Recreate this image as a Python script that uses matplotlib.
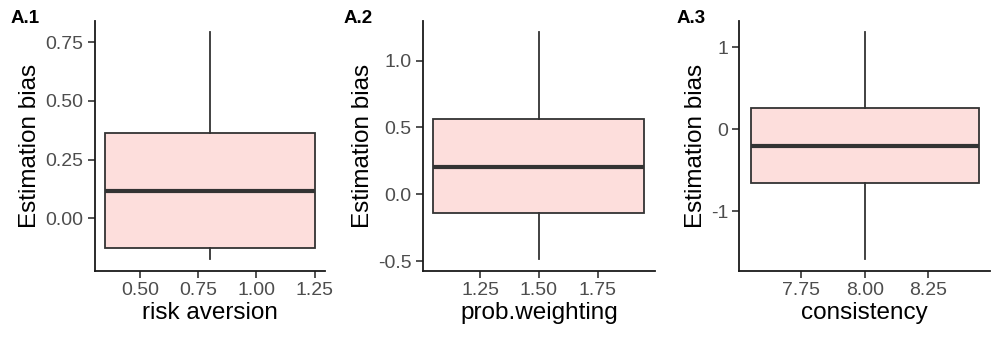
import matplotlib
matplotlib.use("Agg")
import matplotlib.pyplot as plt

plt.rcParams["font.family"] = ["Liberation Sans", "DejaVu Sans"]

# box stats: whisker low, q1, median, q3, whisker high
panels = ["A.1", "A.2", "A.3"]
xlabels = ["risk aversion", "prob.weighting", "consistency"]
centers = [0.8, 1.5, 8.0]
whislo = [-0.176, -0.487, -1.59]
q1 = [-0.127, -0.139, -0.657]
med = [0.116, 0.206, -0.20]
q3 = [0.363, 0.563, 0.257]
whishi = [0.794, 1.213, 1.188]

xticks = [[0.50, 0.75, 1.00, 1.25], [1.25, 1.50, 1.75], [7.75, 8.00, 8.25]]
xticklabels = [["0.50", "0.75", "1.00", "1.25"], ["1.25", "1.50", "1.75"], ["7.75", "8.00", "8.25"]]
yticks = [[0.0, 0.25, 0.5, 0.75], [-0.5, 0.0, 0.5, 1.0], [-1, 0, 1]]
yticklabels = [["0.00", "0.25", "0.50", "0.75"], ["-0.5", "0.0", "0.5", "1.0"], ["-1", "0", "1"]]

W, H = 991, 338
fig = plt.figure(figsize=(W / 100, H / 100), dpi=100)

# axes boxes in pixels: left, right
boxes = [(94.7, 325), (422.7, 655), (739.3, 990)]
top_px, bot_px = 20.7, 270.7
label_x = [11, 344, 677]

line_col = "#333333"
fill_col = "#FDDEDC"
width = 0.9

for i in range(3):
    l, r = boxes[i]
    ax = fig.add_axes([l / W, (H - bot_px) / H, (r - l) / W, (bot_px - top_px) / H])
    stats = [dict(whislo=whislo[i], q1=q1[i], med=med[i], q3=q3[i], whishi=whishi[i], fliers=[])]
    ax.bxp(stats, positions=[centers[i]], widths=width, showcaps=False, patch_artist=True,
           boxprops=dict(facecolor=fill_col, edgecolor=line_col, linewidth=1.3),
           medianprops=dict(color=line_col, linewidth=3),
           whiskerprops=dict(color=line_col, linewidth=1.3))
    # ggplot-style 5% expansion
    x0, x1 = centers[i] - width / 2, centers[i] + width / 2
    dx = (x1 - x0) * 0.05
    ax.set_xlim(x0 - dx, x1 + dx)
    dy = (whishi[i] - whislo[i]) * 0.05
    ax.set_ylim(whislo[i] - dy, whishi[i] + dy)

    ax.set_xticks(xticks[i])
    ax.set_xticklabels(xticklabels[i])
    ax.set_yticks(yticks[i])
    ax.set_yticklabels(yticklabels[i])
    ax.tick_params(colors="#4D4D4D", labelsize=14, length=5, width=1.2, color=line_col, pad=3)
    for s in ["top", "right"]:
        ax.spines[s].set_visible(False)
    for s in ["left", "bottom"]:
        ax.spines[s].set_linewidth(1.3)
        ax.spines[s].set_color("#1a1a1a")
    ax.set_xlabel(xlabels[i], fontsize=17.5, color="black", labelpad=2)
    ax.set_ylabel("Estimation bias", fontsize=17.5, color="black", labelpad=3)
    fig.text(label_x[i] / W, 1 - 23 / H, panels[i], fontsize=13.5, fontweight="bold")

fig.savefig("out.png", dpi=100)
